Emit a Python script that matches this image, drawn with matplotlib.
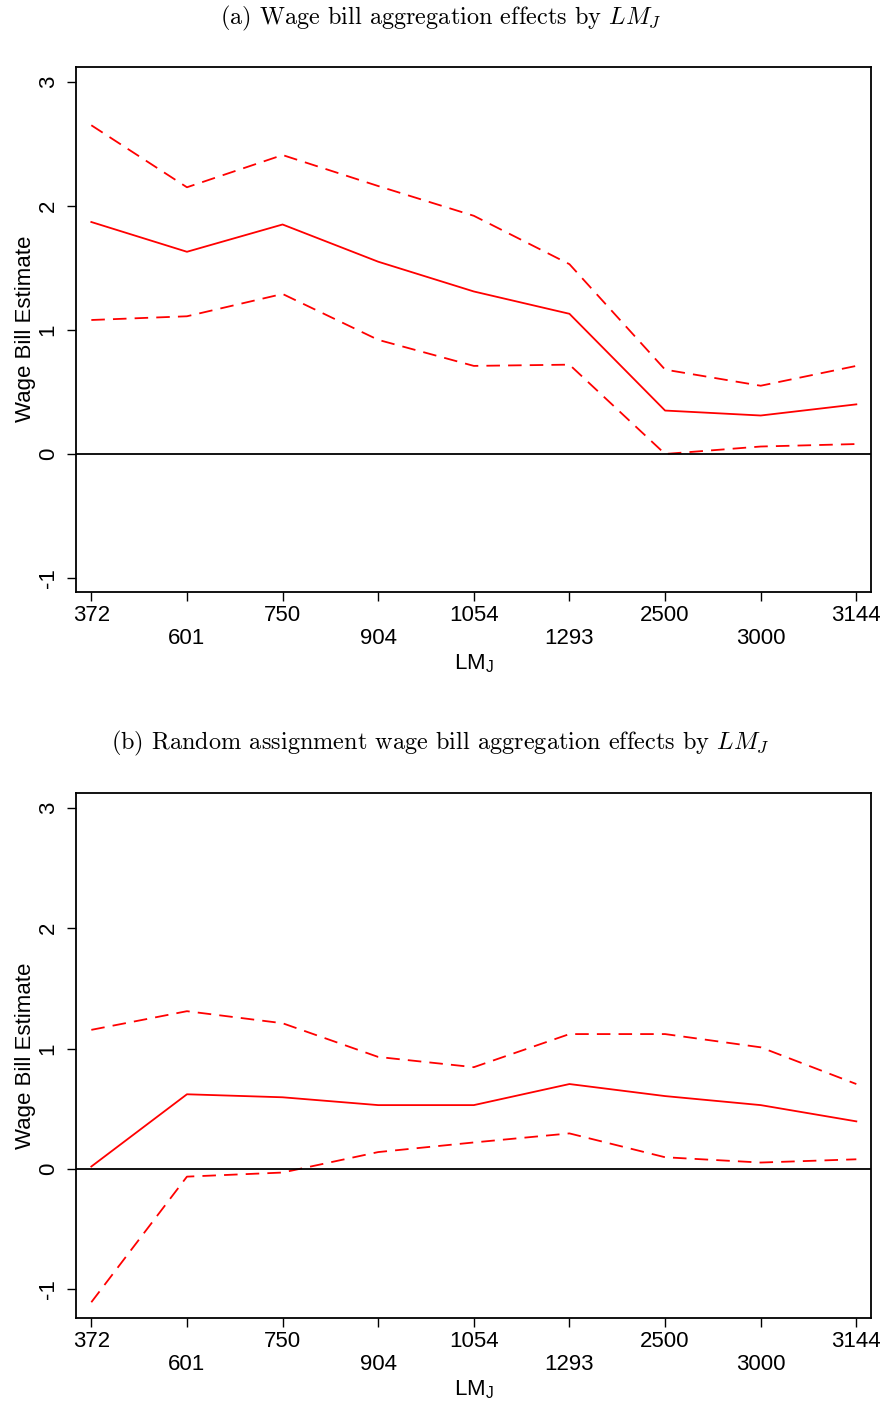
import matplotlib
matplotlib.use("Agg")
import matplotlib.pyplot as plt

plt.rcParams['font.family'] = ['Liberation Sans', 'DejaVu Sans']
plt.rcParams['axes.unicode_minus'] = False

labels = ['372', '601', '750', '904', '1054', '1293', '2500', '3000', '3144']

# (a) wage bill aggregation effects
est_a = [1.87, 1.63, 1.85, 1.55, 1.31, 1.13, 0.35, 0.31, 0.40]
hi_a = [2.65, 2.15, 2.41, 2.16, 1.92, 1.53, 0.68, 0.55, 0.71]
lo_a = [1.08, 1.11, 1.29, 0.92, 0.71, 0.72, 0.0, 0.06, 0.08]

# (b) random assignment
est_b = [0.02, 0.62, 0.595, 0.53, 0.53, 0.705, 0.605, 0.53, 0.395]
hi_b = [1.155, 1.31, 1.21, 0.93, 0.845, 1.12, 1.12, 1.01, 0.705]
lo_b = [-1.107, -0.064, -0.03, 0.14, 0.22, 0.295, 0.097, 0.053, 0.08]

titles = [r'(a) Wage bill aggregation effects by $LM_J$',
          r'(b) Random assignment wage bill aggregation effects by $LM_J$']

fig = plt.figure(figsize=(8.86, 14.01), dpi=100)
ax_a = fig.add_axes([0.0858, 0.5777, 0.8969, 0.3745])
ax_b = fig.add_axes([0.0858, 0.0595, 0.8969, 0.3743])

x = list(range(len(labels)))


def draw(ax, est, hi, lo, ylim):
    ax.plot(x, est, color='red', lw=1.3)
    for s in (hi, lo):
        ln, = ax.plot(x, s, color='red', lw=1.3)
        ln.set_dashes([7.5, 4.5])
    ax.axhline(0, color='black', lw=1.3)
    ax.set_xlim(-0.16, 8.15)
    ax.set_ylim(*ylim)
    ax.set_yticks([-1, 0, 1, 2, 3])
    ax.set_yticklabels(['-1', '0', '1', '2', '3'], rotation=90, va='center')
    ax.set_xticks(x[::2])
    ax.set_xticklabels(labels[::2])
    ax.set_xticks(x[1::2], minor=True)
    ax.set_xticklabels(labels[1::2], minor=True)
    ax.tick_params(axis='both', which='both', length=6.5, width=1.0,
                   labelsize=16, direction='out')
    ax.tick_params(axis='x', which='major', pad=3)
    ax.tick_params(axis='x', which='minor', pad=20)
    ax.tick_params(axis='y', pad=6)
    for sp in ax.spines.values():
        sp.set_linewidth(1.3)
    ax.set_ylabel('Wage Bill Estimate', fontsize=16, labelpad=1)
    ax.set_xlabel(r'LM$_\mathregular{J}$', fontsize=16, labelpad=2)


draw(ax_a, est_a, hi_a, lo_a, (-1.11, 3.12))
draw(ax_b, est_b, hi_b, lo_b, (-1.235, 3.12))

fig.text(0.497, 1 - 18 / 1401, titles[0], ha='center', va='center',
         family='cmr10', math_fontfamily='cm', fontsize=17.5)
fig.text(0.497, 1 - 743 / 1401, titles[1], ha='center', va='center',
         family='cmr10', math_fontfamily='cm', fontsize=17.5)

fig.savefig('out.png', dpi=100)
